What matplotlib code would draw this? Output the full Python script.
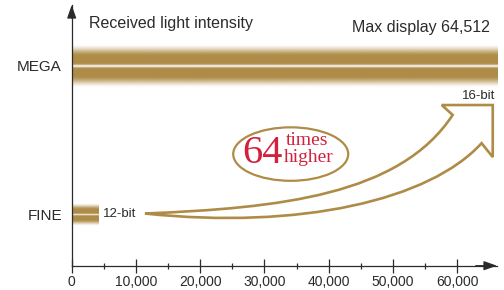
import numpy as np
import matplotlib.pyplot as plt
from matplotlib.colors import to_rgb
from matplotlib.patches import Ellipse, PathPatch
from matplotlib.path import Path

plt.rcParams["font.family"] = "Liberation Sans"

GOLD = "#ae8c47"
RED = "#d1213d"
INK = "#2b2b2b"

# data
levels = ["FINE", "MEGA"]
level_pos = [1.0, 4.0]
band_max = [4096, 66200]
band_half = [0.23, 0.44]
bit_labels = ["12-bit", "16-bit"]
x_ticks = [0, 10000, 20000, 30000, 40000, 50000, 60000]
x_minor = [5000, 15000, 25000, 35000, 45000, 55000]
max_display = 64512
ratio = 64
x_limit = 66200


def draw_band(ax, x1, y, half):
    v = np.linspace(-1, 1, 240)
    t = np.clip((1 - np.abs(v)) / 0.55, 0, 1)
    a = t * t * (3 - 2 * t)
    a = a * (1 - 0.95 * np.exp(-(v / 0.06) ** 2))
    rgba = np.zeros((len(v), 2, 4))
    rgba[..., :3] = to_rgb(GOLD)
    rgba[..., 3] = a[:, None]
    ax.imshow(rgba, extent=(0, x1, y - half, y + half), aspect="auto",
              interpolation="bilinear", zorder=1)


fig = plt.figure(figsize=(5.04, 2.90), dpi=100)
ax = fig.add_axes([71.7 / 504, 24.3 / 290, 425.3 / 504, 260.7 / 290])

for xm, y, h in zip(band_max, level_pos, band_half):
    draw_band(ax, xm, y, h)

# hollow arrow from 12-bit to 16-bit
fine, mega = level_pos
tail = (11400, fine + 0.02)
verts = [
    tail,
    (32400, 1.13), (51100, 1.39), (59300, 3.01),
    (57600, 3.21),
    (65536, 3.21),
    (65536, 2.16),
    (63800, 2.44),
    (55750, 1.29), (35500, 0.69), tail,
    tail,
]
codes = [Path.MOVETO,
         Path.CURVE4, Path.CURVE4, Path.CURVE4,
         Path.LINETO, Path.LINETO, Path.LINETO, Path.LINETO,
         Path.CURVE4, Path.CURVE4, Path.CURVE4,
         Path.CLOSEPOLY]
ax.add_patch(PathPatch(Path(verts, codes), facecolor="none", edgecolor=GOLD,
                       lw=1.9, joinstyle="miter", zorder=3))

ax.add_patch(Ellipse((34090, 2.22), width=17900, height=1.08, facecolor="white",
                     edgecolor=GOLD, lw=1.6, zorder=3))
ax.text(29700, 2.04, str(ratio), color=RED, fontsize=29, family="Liberation Serif",
        ha="center", va="baseline", zorder=4)
ax.text(33300, 2.40, "times", color=RED, fontsize=14, family="Liberation Serif",
        ha="left", va="baseline", zorder=5)
ax.text(33000, 2.06, "higher", color=RED, fontsize=14, family="Liberation Serif",
        ha="left", va="baseline", zorder=5)

ax.text(4870, fine, bit_labels[0], color=INK, fontsize=9.5, ha="left", va="center")
ax.text(65900, 3.40, bit_labels[1], color=INK, fontsize=9.5, ha="right", va="center")
ax.text(2690, 4.77, "Received light intensity", color=INK, fontsize=11.5,
        ha="left", va="baseline")
ax.text(65090, 4.68, f"Max display {max_display:,}", color=INK, fontsize=11.5,
        ha="right", va="baseline")

ax.set_xlim(0, x_limit)
ax.set_ylim(-0.034, 5.23)

ax.set_xticks(x_ticks)
ax.set_xticklabels([f"{v:,}" for v in x_ticks], fontsize=10, color=INK)
ax.set_xticks(x_minor, minor=True)
ax.tick_params(axis="x", which="major", direction="inout", length=9.5, width=0.9,
               color=INK, pad=2)
ax.tick_params(axis="x", which="minor", direction="inout", length=4.6, width=0.9,
               color=INK)
ax.set_yticks(level_pos)
ax.set_yticklabels(levels, fontsize=11, color=INK)
ax.tick_params(axis="y", length=0, pad=7)

for side in ["top", "right"]:
    ax.spines[side].set_visible(False)
for side in ["left", "bottom"]:
    ax.spines[side].set_color(INK)
    ax.spines[side].set_linewidth(0.9)
    ax.spines[side].set_zorder(6)

arrow = dict(arrowstyle="-|>,head_length=0.8,head_width=0.28", color=INK, lw=0.9,
             shrinkA=0, shrinkB=0)
ax.annotate("", xy=(1, 0), xytext=(0.95, 0), xycoords="axes fraction", arrowprops=arrow)
ax.annotate("", xy=(0, 1), xytext=(0, 0.95), xycoords="axes fraction", arrowprops=arrow)

fig.savefig("out.png", dpi=100)
